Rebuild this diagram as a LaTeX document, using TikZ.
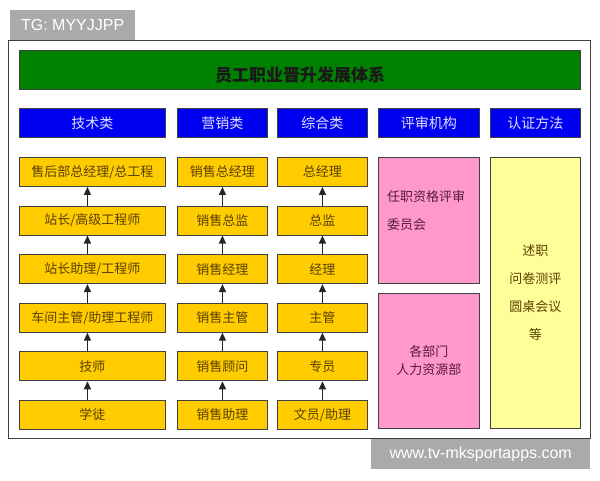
\documentclass[tikz,border=0pt]{standalone}
\usepackage{fontspec}
\setmainfont{Noto Sans CJK SC}
\newfontfamily\latinfont{Liberation Sans}
\usetikzlibrary{arrows.meta,positioning}
\definecolor{gbar}{HTML}{008000}
\definecolor{bbar}{HTML}{0000F0}
\definecolor{ybox}{HTML}{FFCC00}
\definecolor{ytext}{HTML}{5A4000}
\definecolor{pbox}{HTML}{FF99CC}
\definecolor{ptext}{HTML}{5A1840}
\definecolor{lybox}{HTML}{FFFF99}
\definecolor{wm}{HTML}{AAAAAA}
\tikzset{
  rbox/.style={draw=black!75, line width=0.9pt, inner sep=0pt, anchor=north west},
  title/.style={rbox, fill=gbar},
  titletext/.style={text=black!90, font=\fontsize{17}{20}\selectfont\bfseries, inner sep=0pt},
  head/.style={rbox, fill=bbar, text=white!88!blue, font=\fontsize{14}{16}\selectfont},
  rank/.style={rbox, fill=ybox, text=ytext, font=\fontsize{13}{15}\selectfont, minimum height=29pt},
  rank1/.style={rank, minimum width=146pt},
  rank2/.style={rank, minimum width=90pt},
  organ/.style={rbox, fill=pbox, text=ptext, font=\fontsize{13}{15}\selectfont, minimum width=101pt},
  method/.style={rbox, fill=lybox, text=ytext, font=\fontsize{13}{15}\selectfont, minimum width=90pt, minimum height=271pt},
  up/.style={-{Triangle[length=8pt,width=7pt]}, line width=1.4pt, black!85},
  tag/.style={fill=wm, text=white, inner sep=0pt, anchor=north west, font=\latinfont\fontsize{16}{18}\selectfont}
}
\begin{document}
\begin{tikzpicture}[x=1pt,y=-1pt]
\useasboundingbox (0,0) rectangle (600,480);
\fill[white] (0,0) rectangle (600,480);
% outer frame
\node[draw=black!75, line width=0.8pt, inner sep=0pt, anchor=north west, minimum width=582pt, minimum height=398pt] (frame) at (8,40) {};
% watermark tags
\node[tag, minimum width=125pt, minimum height=30pt] (tg) at (10,10) {TG: MYYJJPP};
\node[tag, minimum width=219pt, minimum height=30pt] (url) at (371,439) {www.tv-mksportapps.com};
% title
\node[title, minimum width=561pt, minimum height=39pt] (t) at (19,50) {};
\node[titletext] (tt) at (300,75) {员工职业晋升发展体系};
% headers
\node[head, minimum width=146pt, minimum height=29pt] (h1) at (19,108) {技术类};
\node[head, minimum width=90pt, minimum height=29pt] (h2) at (177,108) {营销类};
\node[head, minimum width=90pt, minimum height=29pt] (h3) at (277,108) {综合类};
\node[head, minimum width=101pt, minimum height=29pt] (h4) at (378,108) {评审机构};
\node[head, minimum width=90pt, minimum height=29pt] (h5) at (490,108) {认证方法};
% column 1
\node[rank1] (a1) at (19,157) {售后部总经理/总工程};
\node[rank1] (a2) at (19,205.6) {站长/高级工程师};
\node[rank1] (a3) at (19,254.2) {站长助理/工程师};
\node[rank1] (a4) at (19,302.8) {车间主管/助理工程师};
\node[rank1] (a5) at (19,351.4) {技师};
\node[rank1] (a6) at (19,400) {学徒};
% column 2
\node[rank2] (b1) at (177,157) {销售总经理};
\node[rank2] (b2) at (177,205.6) {销售总监};
\node[rank2] (b3) at (177,254.2) {销售经理};
\node[rank2] (b4) at (177,302.8) {销售主管};
\node[rank2] (b5) at (177,351.4) {销售顾问};
\node[rank2] (b6) at (177,400) {销售助理};
% column 3
\node[rank2] (c1) at (277,157) {总经理};
\node[rank2] (c2) at (277,205.6) {总监};
\node[rank2] (c3) at (277,254.2) {经理};
\node[rank2] (c4) at (277,302.8) {主管};
\node[rank2] (c5) at (277,351.4) {专员};
\node[rank2] (c6) at (277,400) {文员/助理};
% arrows
\foreach \lo/\hi in {6/5,5/4,4/3,3/2,2/1}{
  \draw[up] ([xshift=-5pt]a\lo.north) -- ([xshift=-5pt]a\hi.south);
  \draw[up] (b\lo.north) -- (b\hi.south);
  \draw[up] (c\lo.north) -- (c\hi.south);
}
% review bodies
\node[organ, minimum height=126pt] (o1) at (378,157) {};
\node[anchor=west, text=ptext, font=\fontsize{13}{15}\selectfont, inner sep=0pt] (o1a) at (387,197) {任职资格评审};
\node[anchor=west, text=ptext, font=\fontsize{13}{15}\selectfont, inner sep=0pt] (o1b) at (387,225) {委员会};
\node[organ, minimum height=135pt, align=center] (o2) at (378,293) {各部门\\[3pt]人力资源部};
% methods
\node[method, align=center] (m) at (490,157) {述职\\[13pt]问卷测评\\[13pt]圆桌会议\\[13pt]等};
\end{tikzpicture}
\end{document}
